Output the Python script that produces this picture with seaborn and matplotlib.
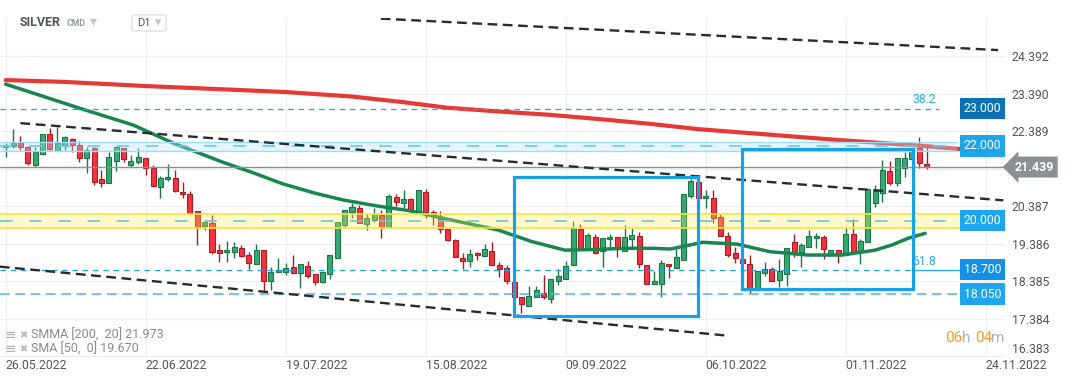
import matplotlib
matplotlib.use("Agg")
import matplotlib.pyplot as plt
import matplotlib.transforms as mtransforms
from matplotlib.patches import Rectangle, FancyBboxPatch
import numpy as np
import pandas as pd
import seaborn as sns

# ---------------- data ----------------
opens = [21.96, 22.00, 22.08, 21.96, 21.50, 21.78, 22.31, 21.87, 22.00, 22.20,
         22.04, 21.67, 21.94, 21.11, 21.02, 21.59, 21.94, 21.50, 21.56, 21.67,
         21.40, 20.90, 21.12, 21.14, 20.76, 20.71, 20.27, 19.86, 19.94, 19.22,
         19.16, 19.18, 19.27, 19.08, 18.86, 19.22, 18.39, 18.64, 18.65, 18.76,
         18.62, 18.81, 18.58, 18.38, 18.58, 19.00, 19.90, 20.25, 20.35, 19.91,
         20.03, 20.16, 19.83, 20.65, 20.47, 20.58, 20.23, 20.76, 20.24, 20.05,
         19.78, 19.48, 19.01, 18.92, 19.14, 19.06, 19.20, 18.82, 18.74, 18.37,
         17.97, 17.74, 17.98, 18.09, 17.93, 18.41, 18.44, 18.82, 19.78, 19.24,
         19.56, 19.20, 19.51, 19.56, 19.19, 19.51, 19.59, 18.82, 18.31, 18.31,
         18.86, 18.74, 18.96, 20.66, 21.03, 20.60, 20.60, 20.10, 19.59, 19.14,
         18.98, 18.84, 18.20, 18.60, 18.71, 18.42, 18.58, 19.43, 19.16, 19.30,
         19.54, 19.56, 19.08, 19.22, 19.08, 19.64, 19.16, 19.43, 20.47, 20.74,
         21.32, 21.01, 21.40, 21.64, 21.94, 21.52]
highs = [22.07, 22.45, 22.27, 21.99, 21.97, 22.32, 22.47, 22.52, 22.26, 22.21,
         22.13, 21.97, 21.98, 21.36, 21.85, 21.96, 21.94, 21.75, 21.94, 21.67,
         21.48, 21.20, 21.52, 21.36, 21.03, 20.80, 20.27, 19.96, 20.16, 19.38,
         19.46, 19.44, 19.36, 19.18, 19.38, 19.22, 18.76, 19.00, 18.87, 19.09,
         18.84, 18.94, 18.58, 18.63, 19.08, 19.98, 20.28, 20.47, 20.43, 20.18,
         20.35, 20.29, 20.72, 20.72, 20.83, 20.62, 20.82, 20.84, 20.28, 20.27,
         19.78, 19.53, 19.14, 19.25, 19.18, 19.38, 19.44, 18.91, 18.82, 18.37,
         17.97, 18.26, 18.26, 18.56, 18.44, 18.72, 18.93, 20.00, 19.92, 19.68,
         19.64, 19.54, 19.65, 19.56, 19.89, 19.80, 19.70, 18.82, 18.66, 18.96,
         18.86, 19.24, 20.71, 21.11, 21.03, 20.82, 20.82, 20.18, 19.71, 19.30,
         18.99, 19.09, 18.66, 18.90, 18.76, 18.98, 19.27, 19.64, 19.40, 19.76,
         19.67, 19.62, 19.22, 19.22, 19.83, 20.04, 19.51, 20.84, 20.96, 21.62,
         21.59, 21.67, 21.83, 21.94, 22.23, 22.05]
lows = [21.71, 21.94, 21.90, 21.48, 21.45, 21.77, 21.88, 21.87, 21.88, 21.83,
        21.56, 21.27, 20.96, 20.90, 21.00, 21.34, 21.58, 21.43, 21.51, 21.23,
        20.91, 20.60, 21.07, 20.78, 20.62, 20.19, 19.37, 19.76, 19.11, 18.91,
        18.91, 19.02, 19.05, 18.72, 18.86, 18.11, 18.16, 18.64, 18.57, 18.62,
        18.22, 18.49, 18.29, 18.35, 18.44, 19.00, 19.85, 20.09, 19.94, 19.77,
        19.98, 19.55, 19.80, 20.41, 20.34, 20.27, 20.23, 20.09, 19.88, 19.69,
        19.47, 19.03, 18.71, 18.78, 18.95, 19.06, 18.82, 18.51, 18.33, 17.96,
        17.55, 17.74, 17.98, 17.93, 17.82, 18.30, 18.44, 18.82, 19.29, 19.24,
        19.11, 18.78, 19.24, 19.05, 19.19, 19.24, 18.75, 18.33, 18.31, 17.96,
        18.49, 18.74, 18.96, 20.61, 20.60, 20.35, 19.94, 19.59, 19.05, 18.87,
        18.87, 18.09, 18.20, 18.54, 18.41, 18.25, 18.27, 19.05, 18.78, 19.30,
        19.27, 18.99, 19.08, 18.89, 19.08, 19.18, 18.84, 19.43, 20.38, 20.50,
        20.96, 20.94, 21.16, 21.64, 21.40, 21.39]
closes = [22.02, 22.08, 21.96, 21.54, 21.84, 22.31, 21.91, 22.07, 22.23, 22.04,
          21.67, 21.89, 21.05, 21.02, 21.70, 21.96, 21.64, 21.59, 21.70, 21.40,
          20.92, 21.14, 21.17, 20.81, 20.71, 20.22, 19.85, 19.96, 19.18, 19.15,
          19.22, 19.30, 19.07, 18.89, 19.22, 18.39, 18.65, 18.69, 18.74, 18.62,
          18.84, 18.54, 18.38, 18.63, 19.08, 19.98, 20.28, 20.37, 19.94, 20.07,
          20.18, 19.85, 20.66, 20.50, 20.58, 20.27, 20.82, 20.25, 20.19, 19.78,
          19.49, 19.03, 18.94, 19.11, 19.08, 19.24, 18.82, 18.73, 18.39, 17.97,
          17.77, 18.00, 18.15, 17.98, 18.44, 18.52, 18.79, 19.80, 19.29, 19.62,
          19.14, 19.54, 19.56, 19.24, 19.56, 19.62, 18.84, 18.33, 18.39, 18.87,
          18.79, 19.03, 20.71, 21.06, 20.60, 20.66, 20.07, 19.59, 19.10, 19.00,
          18.87, 18.20, 18.66, 18.71, 18.41, 18.66, 19.27, 19.18, 19.35, 19.59,
          19.59, 19.24, 19.22, 19.10, 19.64, 19.18, 19.46, 20.84, 20.80, 21.35,
          21.02, 21.67, 21.67, 21.89, 21.54, 21.439]

# moving averages read at sample bars
smma_x = [0, 8, 19, 31, 38, 47, 53.5, 60, 67, 74, 81, 87.5, 94, 102.5, 113, 124, 129.5]
smma_y = [23.76, 23.71, 23.60, 23.50, 23.44, 23.32, 23.18, 23.02, 22.92, 22.83,
          22.71, 22.59, 22.45, 22.32, 22.16, 22.01, 21.92]
sma_x = [0, 10, 17.3, 22.7, 29.3, 33.8, 37.6, 42, 45.8, 50.4, 54.9, 59.4, 63, 66.8,
         71.4, 75.9, 80.4, 84.1, 87.9, 90.2, 94.6, 99.3, 103.7, 108.9, 113.5, 118,
         120.3, 122.5, 124.8]
sma_y = [23.65, 23.01, 22.56, 22.08, 21.58, 21.27, 20.99, 20.74, 20.56, 20.40,
         20.27, 20.07, 19.92, 19.76, 19.45, 19.22, 19.24, 19.27, 19.27, 19.25,
         19.43, 19.38, 19.18, 19.09, 19.09, 19.22, 19.36, 19.54, 19.67]

date_ticks = [0, 19, 38, 57, 76, 95, 114, 133]
date_labels = ["26.05.2022", "22.06.2022", "19.07.2022", "15.08.2022",
               "09.09.2022", "06.10.2022", "01.11.2022", "24.11.2022"]
price_ticks = [24.392, 23.390, 22.389, 21.388, 20.387, 19.386, 18.385, 17.384, 16.383]
price_labels = ["24.392", "23.390", "22.389", "", "20.387", "19.386", "18.385", "17.384", "16.383"]

# channel / trend lines (bar index, price)
trend_x = [[50.9, 134.7], [2.0, 135.4], [-0.8, 97.9]]
trend_y = [[25.40, 24.56], [22.61, 20.55], [18.78, 16.94]]

# range boxes (bar index left/right, price bottom/top)
box_x = [[69.0, 94.0], [99.9, 123.1]]
box_y = [[17.46, 21.165], [18.18, 21.92]]

# levels
level_values = [23.000, 22.000, 20.000, 18.700, 18.050]
level_labels = ["23.000", "22.000", "20.000", "18.700", "18.050"]
band_22 = [21.87, 22.10]
band_20 = [19.81, 20.18]
last_price = 21.439
fib_labels = ["38.2", "61.8"]
fib_values = [23.254, 18.923]

# ---------------- figure ----------------
sns.set_theme(style="white")
plt.rcParams["font.family"] = ["Roboto", "DejaVu Sans"]
plt.rcParams["lines.scale_dashes"] = False

W, H = 1072, 382
fig = plt.figure(figsize=(W / 100, H / 100), dpi=100)
ax_left, ax_right, ax_top, ax_bot = 0, 1005, 18, 357
ax = fig.add_axes([ax_left / W, (H - ax_bot) / H, (ax_right - ax_left) / W, (ax_bot - ax_top) / H])
ax.set_facecolor("white")
for s in ax.spines.values():
    s.set_visible(False)

px_per_bar = 7.368
x0_px = 5.7
ax.set_xlim((ax_left - x0_px) / px_per_bar, (ax_right - x0_px) / px_per_bar)
ppu = 37.47
ax.set_ylim(22 - (ax_bot - 146) / ppu, 22 + (146 - ax_top) / ppu)

ax.set_xticks(date_ticks)
ax.set_xticklabels(date_labels, ha="left", color="#555555", fontsize=8.8)
ax.set_yticks(price_ticks)
ax.set_yticklabels(price_labels, color="#555555", fontsize=8.8)
ax.yaxis.tick_right()
ax.tick_params(axis="y", length=0, pad=5)
ax.tick_params(axis="x", length=0, pad=1.5)
ax.grid(True, color="#eeeeee", lw=0.9, zorder=0)
ax.set_axisbelow(True)
lbls = ax.get_yticklabels()
lbls[-1].set_va("bottom")

# candles
df = pd.DataFrame(dict(i=np.arange(len(opens)), o=opens, h=highs, l=lows, c=closes))
up = df.c >= df.o
for mask, face, edge in [(up, "#35aa70", "#1d7449"), (~up, "#f5333f", "#a51d27")]:
    d = df[mask]
    ax.vlines(d.i, d.l, d.h, color=edge, lw=1.0, zorder=2)
    ax.bar(d.i, np.maximum((d.c - d.o).abs(), 0.03), bottom=np.minimum(d.o, d.c),
           width=0.68, color=face, edgecolor=edge, linewidth=0.8, zorder=2.5)

# moving averages
sns.lineplot(x=smma_x, y=smma_y, color="#e53935", lw=3.0, ax=ax, zorder=3)
sns.lineplot(x=sma_x, y=sma_y, color="#17864f", lw=2.5, ax=ax, zorder=3)

xl = ax.get_xlim()[0]
# bands
ax.fill_between([xl, 129.1], band_22[0], band_22[1], color="#b3e5fc", alpha=0.35, lw=0, zorder=4)
ax.hlines(band_22, xl, 129.1, colors="#9fdcf8", lw=1.0, zorder=4)
ax.fill_between([xl, 129.9], band_20[0], band_20[1], color="#ffee58", alpha=0.3, lw=0, zorder=4)
ax.hlines(band_20, xl, 129.9, colors="#f7e43a", lw=1.2, zorder=4)

# level lines
ax.hlines(level_values[0], xl, 126.7, colors="#1ea3ee", lw=0.9, linestyles=[(0, (4, 3.4))], zorder=5)
ax.hlines(level_values[1], xl, 129.1, colors="#6cc8f2", lw=1.2, linestyles=[(0, (9, 12))], zorder=5)
ax.hlines(level_values[2], xl, 129.9, colors="#6ec5d2", lw=1.2, linestyles=[(0, (9, 12))], zorder=5)
ax.hlines(level_values[3], xl, 124.0, colors="#1ea3ee", lw=0.9, linestyles=[(0, (4, 3.4))], zorder=5)
ax.hlines(level_values[3], 124.0, 129.8, colors="#1ea3ee", lw=0.9, zorder=5)
ax.hlines(level_values[4], xl, 129.8, colors="#45b6f0", lw=1.1, linestyles=[(0, (7, 4))], zorder=5)
ax.axhline(last_price, color="#8c9196", lw=1.0, zorder=5)

# trend lines
for tx, ty in zip(trend_x, trend_y):
    ax.plot(tx, ty, color="#262b30", lw=1.7, ls=(0, (7, 4)), zorder=6)

# boxes
for bx, by in zip(box_x, box_y):
    ax.add_patch(Rectangle((bx[0], by[0]), bx[1] - bx[0], by[1] - by[0], fill=False,
                           ec="#16a1e8", lw=2.3, zorder=7))

# fib labels
for t, v in zip(fib_labels, fib_values):
    ax.text(123.1, v, t, color="#2aaaf0", fontsize=8.8, va="center", ha="left", zorder=8)

# level labels on the right
trans = mtransforms.blended_transform_factory(ax.transAxes, ax.transData)
lab_colors = ["#0c72b3", "#1ea5ec", "#1ea5ec", "#1491e6", "#1ea5ec"]
for v, t, col in zip(level_values, level_labels, lab_colors):
    ax.text(982.5 / 1005, v, t, transform=trans, color="white", fontsize=8.8, ha="center",
            va="center", clip_on=False, zorder=9,
            bbox=dict(boxstyle="square,pad=0.33", fc=col, ec="none"))
ax.text(1034 / 1005, last_price, f"{last_price:.3f}", transform=trans, color="white",
        fontsize=9, fontweight="bold", ha="center", va="center", clip_on=False, zorder=9,
        bbox=dict(boxstyle="larrow,pad=0.32", fc="#8a9095", ec="none"))

# header
def ftext(x, y, s, **kw):
    fig.text(x / W, 1 - y / H, s, **kw)

ftext(20, 23, "SILVER", fontsize=9, fontweight="bold", color="#4d5660", va="center")
ftext(67, 24, "CMD", fontsize=6.3, fontweight="bold", color="#8d9cab", va="center")
ftext(90, 21, "▾", fontsize=10, color="#c0c4c8", va="center", family=["DejaVu Sans"])
fig.patches.append(FancyBboxPatch((132 / W, 1 - 31 / H), 34 / W, 16 / H,
                                  boxstyle="round,pad=0,rounding_size=0.003",
                                  transform=fig.transFigure, fc="white", ec="#dddddd", lw=0.9))
ftext(137, 23.5, "D1", fontsize=8, color="#555555", va="center")
ftext(155, 22.5, "▾", fontsize=9, color="#c0c4c8", va="center", family=["DejaVu Sans"])

# legend (bottom left)
for yy, s in [(335, "SMMA [200,  20] 21.973"), (349, "SMA [50,  0] 19.670")]:
    ftext(5, yy, "≡", fontsize=10, color="#b0b0b0", va="center", family=["DejaVu Sans"])
    ftext(19, yy, "✖", fontsize=7, color="#b8b8b8", va="center", family=["DejaVu Sans"])
    ftext(31, yy, s, fontsize=9, color="#8a8a8a", va="center")

# countdown
ftext(945, 338, "06", fontsize=11, color="#f99b1c", va="center")
ftext(962, 338, "h", fontsize=11, color="#b0b0b0", va="center")
ftext(975, 338, "04", fontsize=11, color="#f99b1c", va="center")
ftext(991.5, 338, "m", fontsize=11, color="#b0b0b0", va="center")

fig.savefig("out.png", dpi=100, facecolor="white")
